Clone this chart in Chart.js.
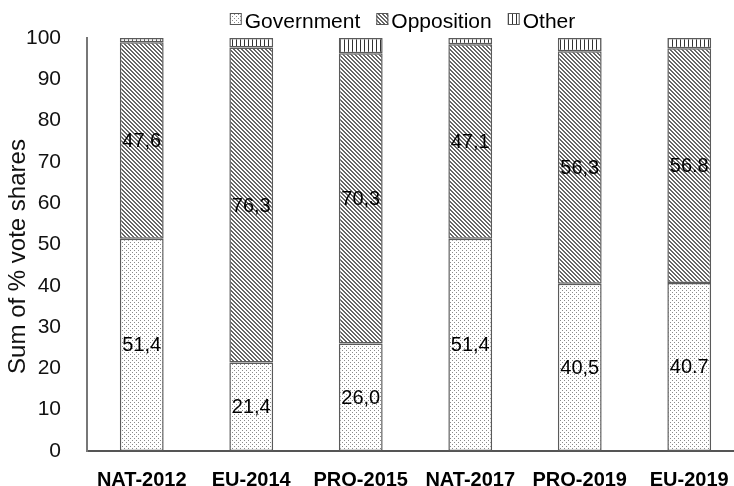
<!DOCTYPE html>
<html>
<head>
<meta charset="utf-8">
<script src="https://cdn.jsdelivr.net/npm/chart.js@4.4.1/dist/chart.umd.min.js"></script>
<style>
  html, body { margin: 0; padding: 0; background: #fff; overflow: hidden; }
  #wrap { width: 812px; height: 486px; }
</style>
</head>
<body>
<div id="wrap"><canvas id="chart" width="812" height="486"></canvas></div>
<script>
// data
const categories = ['NAT-2012', 'EU-2014', 'PRO-2015', 'NAT-2017', 'PRO-2019', 'EU-2019'];
const government = [51.4, 21.4, 26.0, 51.4, 40.5, 40.7];
const opposition = [47.6, 76.3, 70.3, 47.1, 56.3, 56.8];
const other = [1.0, 2.3, 3.7, 1.5, 3.2, 2.5];
const decimalSep = [',', ',', ',', ',', ',', '.'];   // last bar uses a point
const seriesNames = ['Government', 'Opposition', 'Other'];
const yTitle = 'Sum of % vote shares';
const yMin = 0, yMax = 100, yStep = 10;

const FONT = '"Liberation Sans", Arial, sans-serif';

// --- fill patterns ---
function makeTile(size, drawFn) {
  const c = document.createElement('canvas');
  c.width = size; c.height = size;
  const g = c.getContext('2d');
  g.fillStyle = '#fff';
  g.fillRect(0, 0, size, size);
  drawFn(g);
  return document.getElementById('chart').getContext('2d').createPattern(c, 'repeat');
}
const dotPattern = makeTile(4, g => {
  g.fillStyle = '#8a8a8a';
  g.fillRect(0, 0, 1, 1);
  g.fillRect(2, 2, 1, 1);
});
const hatchPattern = makeTile(4, g => {
  g.fillStyle = '#666';
  for (let i = 0; i < 4; i++) {
    g.fillRect(i, i, 1, 1);
    g.fillRect((i + 1) % 4, i, 1, 1);
  }
});
const vlinePattern = makeTile(4, g => {
  g.fillStyle = '#333';
  g.fillRect(0, 0, 1, 4);
});
const patterns = [dotPattern, hatchPattern, vlinePattern];

// value labels centred in the government / opposition segments
const valueLabels = {
  id: 'valueLabels',
  afterDatasetsDraw(chart) {
    const ctx = chart.ctx;
    ctx.save();
    ctx.font = '20px ' + FONT;
    ctx.fillStyle = '#000';
    ctx.textAlign = 'center';
    ctx.textBaseline = 'middle';
    [0, 1].forEach(di => {
      const meta = chart.getDatasetMeta(di);
      const vals = chart.data.datasets[di].data;
      meta.data.forEach((bar, i) => {
        const txt = vals[i].toFixed(1).replace('.', decimalSep[i]);
        ctx.fillText(txt, bar.x, (bar.y + bar.base) / 2 + 1);
      });
    });
    ctx.restore();
  }
};

// legend above the plot + y title, drawn by hand
const extras = {
  id: 'extras',
  afterDraw(chart) {
    const ctx = chart.ctx;
    const area = chart.chartArea;
    ctx.save();
    ctx.font = '21px ' + FONT;
    ctx.textBaseline = 'middle';
    const box = 12, gapText = 3, gapItem = 16;
    const widths = seriesNames.map(n => box + gapText + ctx.measureText(n).width);
    const total = widths.reduce((a, b) => a + b, 0) + gapItem * (seriesNames.length - 1);
    let x = (area.left + area.right) / 2 - 13 - total / 2;
    const y = 20;
    seriesNames.forEach((name, i) => {
      ctx.fillStyle = patterns[i];
      ctx.fillRect(x, y - 7, box, box);
      ctx.strokeStyle = '#555';
      ctx.lineWidth = 1;
      ctx.strokeRect(x + 0.5, y - 6.5, box - 1, box - 1);
      ctx.fillStyle = '#000';
      ctx.fillText(name, x + box + gapText, y + 2);
      x += widths[i] + gapItem;
    });

    // rotated axis title, a bit below the plot's middle as in the reference
    ctx.font = '24px ' + FONT;
    ctx.fillStyle = '#111';
    ctx.textAlign = 'center';
    ctx.translate(18, (area.top + area.bottom) / 2 + 12);
    ctx.rotate(-Math.PI / 2);
    ctx.fillText(yTitle, 0, 0);
    ctx.restore();
  }
};

const seriesData = [government, opposition, other];

new Chart(document.getElementById('chart'), {
  type: 'bar',
  data: {
    labels: categories,
    datasets: seriesData.map((d, i) => ({
      label: seriesNames[i],
      data: d,
      backgroundColor: patterns[i],
      borderColor: '#5a5a5a',
      borderWidth: 1.5,
      borderSkipped: false,
      barPercentage: 0.40,
      categoryPercentage: 1.0
    }))
  },
  options: {
    responsive: false,
    animation: false,
    devicePixelRatio: 1,
    layout: { padding: { top: 38, right: 68, bottom: 0, left: 0 } },
    plugins: {
      legend: { display: false },
      tooltip: { enabled: false }
    },
    scales: {
      x: {
        stacked: true,
        grid: { display: false },
        border: { display: true, color: '#555', width: 2 },
        ticks: {
          color: '#000',
          font: { family: FONT, size: 20, weight: 'bold' },
          padding: 9,
          maxRotation: 0,
          autoSkip: false
        },
        afterFit(scale) { scale.height = 35; }
      },
      y: {
        stacked: true,
        min: yMin,
        max: yMax,
        grid: { display: false },
        border: { display: true, color: '#777', width: 2 },
        ticks: {
          stepSize: yStep,
          color: '#111',
          font: { family: FONT, size: 21 },
          padding: 18
        },
        afterFit(scale) { scale.width = 87; }
      }
    }
  },
  plugins: [valueLabels, extras]
});
</script>
</body>
</html>
